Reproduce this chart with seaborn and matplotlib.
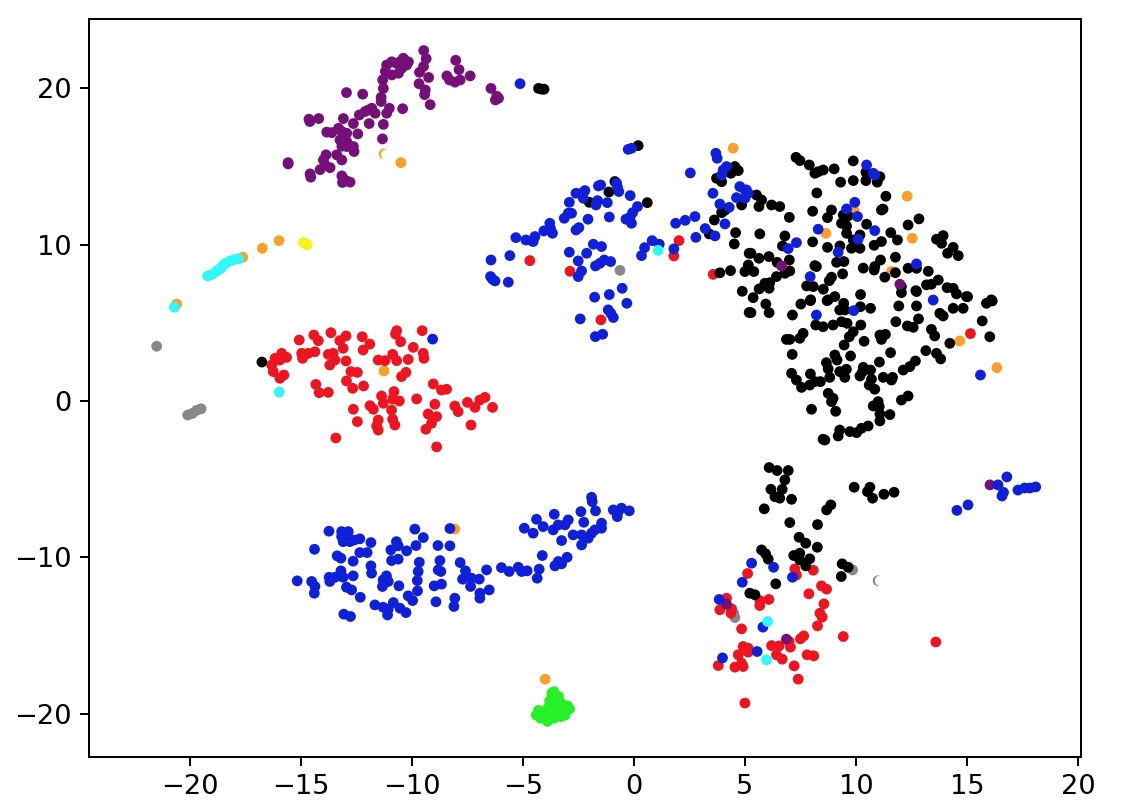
import matplotlib
matplotlib.use('Agg')
import matplotlib.pyplot as plt
import pandas as pd
import seaborn as sns

purple = [(-9.47,22.42),(-9.36,21.9),(-9.48,21.4),(-9.66,21.03),(-9.25,20.7),(-9.68,20.3),(-9.4,19.9),(-9.43,19.6),(-9.18,18.96),
          (-8.03,21.8),(-7.88,21.2),(-8.43,20.8),(-8.31,20.54),(-8.06,20.4),(-7.83,20.54),(-7.38,20.8),(-6.44,20.0),(-6.18,19.5),(-6.24,19.26),(-6.1,19.37),
          (-10.39,21.93),(-10.24,21.5),(-10.91,21.7),(-11.14,21.5),(-11.2,21.08),(-10.91,20.86),(-10.61,20.97),(-10.46,21.29),(-10.69,21.6),(-10.16,21.7),(-10.54,21.7),
          (-11.32,20.54),(-11.29,20.0),(-11.39,19.43),(-11.39,19.16),(-12.95,19.73),(-12.22,19.63),(-10.42,18.7),(-11.02,18.73),(-11.14,18.41),
          (-11.81,18.73),(-11.66,18.41),(-12.11,18.52),(-12.37,18.3),(-11.96,18.62),(-14.64,18.03),(-14.6,17.88),(-14.2,18.07),
          (-13.09,18.07),(-12.64,17.75),(-11.93,17.75),(-11.29,17.7),(-11.33,16.77),(-12.44,17.09),
          (-13.31,17.45),(-13.84,17.2),(-13.61,17.17),(-13.16,17.24),(-12.94,17.13),(-13.24,16.7),(-12.94,16.6),(-13.16,16.3),(-12.64,16.28),(-12.61,15.96),(-12.94,16.28),
          (-13.87,15.75),(-13.39,15.75),(-13.16,15.42),(-13.99,15.42),(-13.69,14.93),(-14.14,14.8),(-13.91,15.1),
          (-15.58,15.17),(-15.58,15.25),(-14.59,14.53),(-14.56,14.32),(-13.16,14.4),(-13.13,13.98),(-12.79,14.0),(-12.97,14.1),
          (6.65,8.64),(11.98,7.47),(16.04,-5.37),(4.17,-13.0),(6.87,-15.24)]

orange = [(-10.5,15.25),(-11.25,15.8),(-15.99,10.26),(-16.74,9.77),(-17.62,9.2),(-20.6,6.2),(4.47,16.17),(12.31,13.1),(12.54,10.41),(8.65,10.73),(9.92,12.18),
          (11.6,8.28),(14.68,3.84),(16.35,2.13),(-11.26,1.92),(-8.07,-8.2),(-4.0,-17.8)]

yellow = [(-14.89,10.14),(-14.71,9.99),(-14.8,10.08)]

cyan = [(-19.2,8.0),(-19.0,8.1),(-18.8,8.3),(-18.7,8.4),(-18.6,8.5),(-18.5,8.7),(-18.4,8.8),(-18.2,8.95),(-18.0,9.05),(-17.8,9.1),
        (-20.7,6.0),(1.09,9.64),(-15.98,0.57),(6.02,-14.11),(5.97,-16.56)]

grey = [(-21.5,3.5),(-20.1,-0.9),(-19.9,-0.8),(-19.7,-0.6),(-19.5,-0.5),(-0.63,8.36),(9.85,-10.81),(4.55,-13.86),(4.5,-13.6),(11.0,-11.5)]

green = [(-3.7,-18.7),(-3.6,-19.0),(-3.8,-19.2),(-3.4,-18.9),(-3.3,-19.3),(-3.0,-19.5),(-2.9,-19.7),(-3.2,-19.8),(-3.5,-19.5),(-3.9,-19.7),(-4.3,-19.8),
         (-4.4,-20.1),(-4.1,-20.1),(-4.2,-20.3),(-3.9,-20.5),(-3.6,-20.3),(-3.3,-20.2),(-3.1,-20.1),(-3.7,-19.9),(-3.5,-20.0),(-3.6,-18.6)]

red = [(-15.08,3.9),(-14.42,4.22),(-14.22,3.86),(-13.65,4.37),(-12.97,4.16),(-13.25,3.86),(-13.1,3.37),(-12.24,4.11),(-11.9,3.64),(-12.2,3.26),(-10.69,4.5),(-10.74,4.28),(-10.51,3.79),(-9.54,4.5),
       (-9.94,3.43),(-9.49,3.05),(-9.46,2.73),(-10.17,2.66),(-10.87,2.98),(-10.69,2.58),(-11.22,2.58),(-11.52,2.62),
       (-15.87,3.05),(-15.65,2.79),(-16.17,2.73),(-15.95,2.62),(-16.32,2.3),(-16.25,1.88),(-15.95,1.45),(-15.77,1.66),
       (-14.97,3.05),(-14.93,2.73),(-14.67,3.05),(-14.37,3.15),(-13.77,2.98),(-13.55,3.05),(-13.47,2.62),(-13.7,2.3),(-12.97,2.56),
       (-12.75,1.88),(-12.46,1.83),(-12.95,1.28),(-12.67,0.81),(-12.18,0.96),(-14.33,1.06),(-14.18,0.53),(-13.77,0.55),
       (-10.27,1.83),(-10.47,1.56),(-9.04,1.09),(-8.67,0.7),(-8.44,0.75),(-9.79,0.13),(-12.64,-0.53),(-12.46,-1.32),(-13.43,-2.37),(-8.89,-2.94),(-7.34,-1.54),
       (-11.37,0.32),(-10.81,0.6),(-10.57,0.0),(-11.89,-0.3),(-11.74,-0.53),(-11.29,-0.15),(-10.87,0.13),(-10.92,-0.58),
       (-11.52,-1.22),(-11.59,-1.6),(-11.52,-1.86),(-10.87,-1.17),(-10.77,-1.54),(-8.97,-0.21),(-9.27,-0.83),(-8.89,-1.0),(-9.12,-1.43),(-9.37,-1.81),
       (-8.07,-0.32),(-7.92,-0.68),(-7.5,-0.09),(-7.16,-0.41),(-6.94,0.06),(-6.71,0.23),(-6.37,-0.41),
       (-4.69,8.98),(-2.88,8.3),(-1.49,5.19),(1.8,9.28),(2.03,10.26),(3.57,8.1),(15.16,4.31),
       (7.25,-10.74),(8.08,-10.83),(7.32,-11.13),(5.12,-11.04),(8.45,-11.83),(8.68,-12.04),(7.88,-12.34),(8.56,-12.98),(8.38,-13.58),(8.48,-13.83),(8.27,-14.39),
       (6.08,-12.7),(5.67,-12.77),(5.67,-13.09),(4.85,-14.58),(4.17,-12.62),(3.87,-13.36),(4.4,-13.3),(4.37,-13.58),
       (9.43,-15.07),(7.65,-15.03),(7.5,-15.22),(6.99,-15.39),(7.05,-15.75),(6.2,-15.65),(6.54,-15.67),(6.42,-16.24),(6.68,-16.52),
       (7.8,-16.24),(8.1,-16.31),(7.22,-16.95),(7.4,-17.8),(4.92,-15.71),(5.15,-15.82),(5.15,-16.07),(4.7,-16.24),(4.85,-16.78),(4.92,-16.99),(4.55,-17.03),(3.8,-16.93),(5.0,-19.33),(13.6,-15.42)]

black = [(-4.3,20.0),(-4.15,19.95),(-4.05,19.95),(-16.76,2.49),(0.19,16.34),(-0.86,14.04),(-1.13,13.37),(-2.01,12.71),(0.6,12.69),
         (3.39,10.69),(3.62,11.58),(3.95,12.05),(4.1,12.2),(4.58,10.77),(4.52,10.05),(3.87,8.2),(4.35,8.34),(5.0,8.28),(5.15,8.7),(5.19,9.45),(4.88,7.02),(5.19,5.66),
         (3.72,14.25),(3.95,14.03),(4.37,14.57),(4.7,14.74),(4.55,15.0),(4.85,12.54),
         (7.3,15.59),(7.48,15.38),(7.9,15.1),(8.15,14.57),(8.3,14.67),(8.53,14.78),(9.02,14.85),(9.88,15.36),(9.31,14.0),(9.88,14.1),(10.45,14.1),(10.45,14.63),(10.96,14.0),(11.08,14.35),
         (8.24,13.31),(11.35,13.1),(5.52,13.18),(5.75,12.86),(5.63,12.44),(6.2,12.54),(6.57,12.44),(7.0,11.75),(8.05,12.14),(8.9,12.22),(8.72,11.73),(11.15,12.22),(11.22,12.28),
         (9.43,11.9),(9.65,11.84),(9.58,11.2),(9.35,11.37),(9.58,10.73),(10.48,11.31),(12.35,11.26),(12.84,11.65),(5.67,10.69),(6.8,10.56),(6.69,9.92),
         (8.05,10.18),(8.72,9.83),(9.28,9.92),(9.8,9.77),(10.18,9.77),(9.88,10.3),(10.18,10.62),(10.82,9.96),(11.15,10.2),(11.57,10.77),(11.87,10.3),
         (13.63,10.35),(13.93,10.58),(13.86,10.09),(14.38,9.83),(14.13,9.45),(14.61,9.3),(5.27,9.45),(5.63,9.13),(6.08,9.24),(5.4,8.28),
         (6.45,8.87),(7.0,9.02),(7.02,8.32),(6.8,8.17),(6.42,7.96),(8.15,8.66),(8.22,8.6),(9.13,8.87),(9.46,8.92),(9.4,8.13),(10.33,8.5),(10.85,8.6),(10.82,8.38),(11.11,9.02),(11.78,9.2),
         (11.3,7.92),(11.78,8.21),(12.35,8.49),(13.26,8.3),(12.73,8.49),(8.9,7.92),(8.8,7.7),(8.53,7.15),(7.78,7.36),(8.08,7.32),(6.12,7.57),(5.9,7.53),(5.64,7.17),(6.09,7.21),(5.37,6.61),
         (10.21,6.81),(9.05,6.68),(8.75,6.47),(7.96,6.47),(12.05,7.32),(12.05,6.93),(12.7,7.06),(13.18,7.43),(13.4,7.47),(13.71,7.74),(14.11,7.25),(14.38,7.21),(14.53,6.85),(14.98,6.68),(16.1,6.47),
         (5.94,6.2),(5.27,5.65),(6.09,5.65),(7.14,5.5),(7.52,6.2),(7.95,6.42),(8.7,6.42),(9.45,6.25),(9.27,5.82),(9.5,5.82),(10.2,6.03),(10.66,5.93),(12.73,7.0),
         (11.93,6.08),(12.73,6.08),(12.82,5.25),(11.8,5.07),(12.32,4.8),(12.58,4.71),(13.78,5.61),(13.93,5.44),(14.38,5.93),(14.83,5.93),(15.03,6.67),(15.88,6.25),(16.14,6.4),(15.69,5.12),(16.03,4.11),
         (14.23,3.69),(13.4,4.58),(13.55,4.16),(13.15,3.22),(13.63,3.05),(13.82,2.69),(12.68,2.56),(12.43,2.2),(12.13,1.98),
         (8.19,4.86),(8.52,4.75),(8.97,4.86),(9.35,5.07),(9.6,4.97),(10.22,4.86),(6.87,3.94),(7.02,3.94),(7.47,4.01),(7.62,4.33),(7.13,2.98),
         (9.88,4.43),(9.7,4.11),(9.47,3.58),(10.37,3.82),(9.76,2.88),(9.05,2.94),(9.15,2.62),(8.67,2.45),(8.75,2.05),(11.08,4.22),(11.33,4.26),(11.15,3.94),(11.56,3.09),(11.06,2.49),
         (7.1,1.77),(7.32,1.34),(7.95,1.73),(7.55,0.87),(7.92,1.02),(8.15,1.24),(8.4,1.24),(8.82,1.51),(9.27,1.88),(9.57,2.03),(9.5,1.51),(10.33,2.15),(10.66,1.98),(10.18,1.6),(10.3,1.88),(10.7,1.39),(10.6,1.02),(10.85,0.75),(11.23,1.51),(11.65,1.51),(11.6,1.34),
         (8.75,0.49),(8.97,0.17),(8.9,-0.04),(8.0,-0.53),(9.09,-0.66),(12.35,0.32),(12.05,0.06),(11.0,-0.04),(10.78,-0.32),(11.05,-0.36),(11.08,-0.83),(11.53,-0.87),(11.08,-1.28),(10.55,-1.6),(10.25,-1.75),(10.03,-2.03),(9.73,-1.96),(9.27,-1.86),(9.2,-2.24),(8.6,-2.5),(8.52,-2.45),
         (6.09,-4.26),(6.45,-4.45),(6.95,-4.45),(6.8,-5.05),(6.17,-5.65),(6.68,-5.65),(6.35,-6.12),(6.57,-6.22),(7.1,-6.29),(5.87,-6.9),(7.02,-7.78),(8.27,-7.91),(8.68,-6.97),(8.87,-6.65),
         (9.92,-5.52),(10.63,-5.52),(10.52,-5.8),(10.75,-6.22),(11.26,-5.97),(11.72,-5.84),(7.44,-8.72),(7.74,-9.1),(8.26,-9.36),(5.75,-9.53),(5.93,-9.78),(6.05,-10.12),
         (7.2,-9.89),(7.47,-9.74),(7.92,-10.1),(7.74,-10.55),(7.47,-10.17),(9.38,-10.42),(9.65,-10.64),(9.34,-11.23),(6.39,-11.7),(5.22,-12.3),(5.45,-12.4)]

blue = [(-5.13,20.3),(-0.26,16.1),(-0.11,16.17),(-6.44,9.02),(-5.59,9.3),(-6.46,7.96),(-6.37,7.79),(-6.26,7.68),(-5.66,7.6),
        (-5.32,10.45),(-4.87,10.3),(-4.61,10.26),(-4.46,10.52),(-4.54,10.2),(-4.06,10.88),(-3.79,11.37),(-3.67,10.73),(-3.76,11.05),(-3.14,11.69),(-2.96,12.01),(-2.81,12.01),(-2.91,12.71),
        (-2.61,10.94),(-2.48,11.09),(-2.07,11.63),(-2.61,13.29),(-2.36,13.29),(-2.21,13.46),(-2.28,12.97),(-1.71,12.54),(-1.64,12.82),(-1.2,12.69),(-1.5,13.82),(-1.6,13.76),(-0.78,13.93),(-0.68,13.4),(-0.74,13.67),
        (-0.17,13.14),(-1.11,11.77),(0.16,12.44),(-0.06,12.05),(-0.36,11.63),(-0.11,11.37),(-0.18,11.75),
        (-2.91,9.52),(-1.83,10.03),(-1.46,9.88),(-2.13,9.45),(-2.51,8.96),(-2.36,8.32),(-2.51,7.96),(-1.73,8.64),(-1.53,8.81),(-1.34,9.02),(-1.05,8.92),
        (-0.53,7.21),(-1.11,6.81),(-1.77,6.64),(-0.32,6.25),(-1.16,5.83),(-1.04,5.61),(-0.93,5.34),(-2.42,5.25),(-1.74,4.12),(-1.41,4.27),
        (0.34,9.3),(0.48,9.81),(0.82,10.26),(1.14,10.03),(1.8,9.73),(1.88,11.37),(2.31,11.56),(2.75,11.8),(2.79,10.47),(3.21,11.03),(3.65,10.56),(4.1,11.33),
        (3.87,12.6),(4.29,12.39),(3.56,13.29),(2.54,14.59),(3.69,15.85),(3.75,15.53),(4.17,15.0),(4.02,14.78),(3.95,14.46),
        (4.77,13.72),(5.0,13.5),(4.62,13.01),(5.0,12.97),(5.15,13.29),(5.07,13.5),
        (10.48,15.1),(10.78,14.57),(10.85,14.46),(9.95,12.71),(9.58,12.29),(10.07,11.8),(8.3,10.99),(10.85,10.9),(7.32,10.13),(6.95,9.75),(9.2,9.51),(7.94,7.96),(10.1,10.35),(12.73,8.77),
        (8.22,5.5),(9.9,5.78),(13.48,6.46),(15.61,1.66),(-9.07,3.96),
        (-15.17,-11.51),(-14.52,-11.55),(-14.37,-11.87),(-14.4,-12.3),(-14.39,-9.49),(-13.74,-8.33),(-13.17,-8.36),(-12.87,-8.36),(-13.17,-8.67),(-13.1,-9.0),(-12.8,-9.0),(-12.35,-8.82),(-11.85,-9.06),(-12.6,-8.9),
        (-13.37,-9.91),(-13.2,-10.06),(-12.65,-10.25),(-12.35,-9.7),(-12.02,-9.7),(-13.73,-11.28),(-13.7,-11.55),(-13.47,-11.28),(-13.2,-10.87),(-13.1,-11.28),(-12.65,-11.19),
        (-12.95,-11.92),(-12.72,-12.09),(-12.33,-12.56),(-13.07,-13.64),(-12.77,-13.79),(-11.85,-10.55),(-11.82,-11.02),(-11.15,-11.19),(-11.3,-11.45),(-11.07,-11.55),(-11.33,-11.87),(-10.59,-11.83),
        (-11.67,-13.05),(-11.3,-13.2),(-10.84,-12.9),(-11.1,-13.69),(-11.07,-13.32),(-10.54,-13.26),(-10.27,-13.54),(-10.17,-12.47),(-9.97,-12.77),(-9.75,-12.15),(-9.76,-11.49),(-9.72,-10.91),(-9.67,-10.32),
        (-9.87,-8.2),(-9.49,-8.74),(-9.82,-9.25),(-10.7,-9.0),(-10.95,-9.53),(-10.62,-9.27),(-10.24,-9.59),(-10.92,-10.21),(-10.62,-10.12),
        (-8.83,-9.25),(-8.29,-9.27),(-8.29,-8.16),(-8.74,-10.21),(-8.82,-10.81),(-8.7,-10.91),(-9.0,-11.83),(-8.67,-11.72),(-8.92,-12.85),(-8.07,-12.62),(-8.11,-13.15),
        (-7.83,-10.34),(-7.59,-10.87),(-7.72,-11.4),(-7.32,-11.34),(-6.97,-11.4),(-7.36,-11.87),(-6.64,-10.81),(-6.94,-12.3),(-6.94,-12.62),(-6.52,-12.09),
        (-5.97,-10.66),(-5.62,-10.91),(-5.21,-10.64),(-5.06,-10.91),(-4.81,-10.87),(-4.27,-10.76),(-4.36,-11.34),(-4.13,-9.89),(-3.56,-10.55),(-3.41,-10.27),(-3.01,-10.0),(-3.26,-10.42),
        (-4.94,-8.14),(-4.54,-8.46),(-4.39,-7.57),(-4.09,-8.04),(-3.59,-7.25),(-3.64,-8.25),(-3.41,-7.93),(-2.96,-7.61),(-3.11,-7.93),(-3.26,-8.93),
        (-2.39,-7.08),(-1.91,-6.16),(-1.88,-6.44),(-1.73,-7.03),(-2.26,-7.76),(-2.74,-8.57),(-2.36,-8.57),(-2.36,-9.21),(-2.06,-8.78),(-1.76,-8.25),(-1.46,-7.82),(-1.46,-8.14),(-1.91,-8.46),
        (-0.93,-6.97),(-0.75,-7.4),(-0.56,-6.86),(-0.21,-7.03),(-0.72,-7.1),
        (5.3,-10.38),(6.29,-10.64),(4.88,-11.6),(7.14,-11.28),(3.84,-12.7),(5.81,-14.47),(5.55,-16.03),(3.99,-16.44),
        (14.55,-7.0),(15.05,-6.65),(16.4,-5.37),(16.8,-4.86),(16.58,-6.08),(16.65,-5.85),(17.3,-5.7),(17.6,-5.57),(18.1,-5.5),(17.84,-5.57)]

# the two hollow looking dots in the picture, white on top of orange and grey
white = [(-11.15,15.75),(11.1,-11.5)]

x_ticks = [-20, -15, -10, -5, 0, 5, 10, 15, 20]
y_ticks = [-20, -10, 0, 10, 20]

# draw order matters, later groups sit on top
groups = [('grey', grey, '#888888'), ('orange', orange, '#f8a028'), ('red', red, '#ee1520'),
          ('black', black, '#000000'), ('purple', purple, '#741078'), ('blue', blue, '#0f20d8'),
          ('cyan', cyan, '#30f8f8'), ('yellow', yellow, '#f8f020'), ('green', green, '#28f028'),
          ('white', white, '#ffffff')]

rows = []
for name, pts, _ in groups:
    for px, py in pts:
        rows.append({'x': px, 'y': py, 'group': name})
df = pd.DataFrame(rows)
palette = {name: col for name, _, col in groups}

fig = plt.figure(figsize=(1138 / 178, 812 / 178), dpi=178)
ax = fig.add_axes([89 / 1138, 1 - 757 / 812, (1081 - 89) / 1138, (757 - 19) / 812])
sns.scatterplot(data=df, x='x', y='y', hue='group', palette=palette, hue_order=[g[0] for g in groups],
                s=19, linewidth=0, legend=False, ax=ax)
ax.set_xlim(-24.55, 20.14)
ax.set_ylim(-22.78, 24.44)
ax.set_xticks(x_ticks)
ax.set_yticks(y_ticks)
ax.tick_params(labelsize=11)
ax.set_xlabel('')
ax.set_ylabel('')
fig.savefig('out.png', dpi=178)
